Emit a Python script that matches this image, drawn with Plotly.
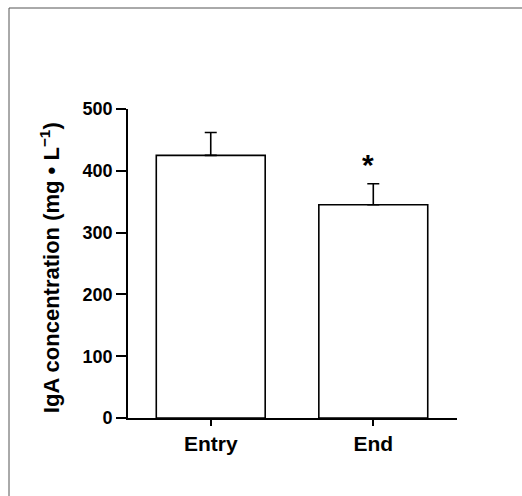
import plotly.graph_objects as go

categories = ["Entry", "End"]
values = [425, 345]
errors_up = [37, 34]
errors_down = [0, 0]
y_ticks = [0, 100, 200, 300, 400, 500]
star_label = "*"
star_value = 420
y_title = "IgA concentration (mg • L<sup>−1</sup>)"

FONT = "Liberation Sans, Arial, Helvetica, sans-serif"

fig = go.Figure()
fig.add_trace(go.Bar(
    x=[0, 1], y=values, width=0.67,
    marker=dict(color="white", line=dict(color="black", width=1.6)),
    error_y=dict(type="data", symmetric=False, array=errors_up, arrayminus=errors_down,
                 color="black", thickness=1.6, width=6),
    showlegend=False,
))

fig.add_annotation(x=1, y=star_value, text="<b>" + star_label + "</b>", showarrow=False,
                   font=dict(family=FONT, size=30, color="black"), yanchor="middle",
                   yshift=-6, xshift=-5)

fig.add_annotation(xref="paper", yref="paper", x=(50 - 128) / 329, y=0.485,
                   text="<b>" + y_title + "</b>", textangle=-90, showarrow=False,
                   font=dict(family=FONT, size=22, color="black"),
                   xanchor="center", yanchor="middle")

# x-axis line extension to the left of the y-axis
fig.add_shape(type="line", xref="paper", yref="y", x0=-8 / 329, x1=0, y0=0, y1=0,
              line=dict(color="black", width=1.6))
# outer frame
fig.add_shape(type="rect", xref="paper", yref="paper",
              x0=(9 - 128) / 329, x1=(540 - 128) / 329,
              y0=(418 - 520) / 309, y1=(418 - 8) / 309,
              line=dict(color="#555555", width=1), layer="below")

fig.update_layout(
    width=522, height=496,
    margin=dict(l=128, r=65, t=109, b=78),
    paper_bgcolor="white", plot_bgcolor="white",
    font=dict(family=FONT, color="black"),
    bargap=0.33,
)
fig.update_xaxes(
    range=[-0.509, 1.515], tickvals=[0, 1], ticktext=["<b>%s</b>" % c for c in categories],
    showline=True, linecolor="black", linewidth=1.6, ticks="outside", ticklen=6,
    tickcolor="black", tickwidth=1.6, tickfont=dict(size=21, family=FONT),
    showgrid=False, zeroline=False,
)
fig.update_yaxes(
    range=[0, 500], tickvals=y_ticks, ticktext=["<b>%d</b>" % t for t in y_ticks],
    showline=True, linecolor="black", linewidth=1.6, ticks="outside", ticklen=10,
    tickcolor="black", tickwidth=1.6, tickfont=dict(size=18, family=FONT),
    showgrid=False, zeroline=False,
)

fig.write_html("out.html")
